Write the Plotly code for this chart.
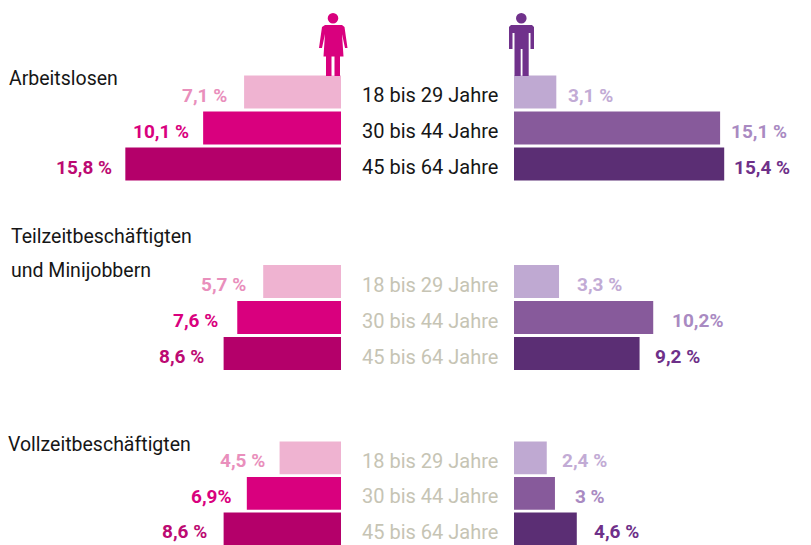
import plotly.graph_objects as go

W, H = 811, 545
ages = ["18 bis 29 Jahre", "30 bis 44 Jahre", "45 bis 64 Jahre"]
title_lines = [["Arbeitslosen"], ["Teilzeitbeschäftigten", "und Minijobbern"], ["Vollzeitbeschäftigten"]]
women = [[7.1, 10.1, 15.8], [5.7, 7.6, 8.6], [4.5, 6.9, 8.6]]
men = [[3.1, 15.1, 15.4], [3.3, 10.2, 9.2], [2.4, 3.0, 4.6]]
women_labels = [["7,1 %", "10,1 %", "15,8 %"], ["5,7 %", "7,6 %", "8,6 %"], ["4,5 %", "6,9%", "8,6 %"]]
men_labels = [["3,1 %", "15,1 %", "15,4 %"], ["3,3 %", "10,2%", "9,2 %"], ["2,4 %", "3 %", "4,6 %"]]
women_gaps = [[15, 12, 11], [15, 17, 18], [13, 13, 15]]
men_gaps = [[10, 9, 8], [16, 17, 13], [13, 18, 15]]

women_colors = ["#EFB3D1", "#D9007E", "#B4006A"]
men_colors = ["#BFA9D2", "#875A9B", "#5B2E74"]
women_text = ["#E98FBC", "#D9007E", "#BC0A72"]
men_text = ["#C2ABD5", "#A98AC2", "#6E3089"]
age_colors = ["#161616", "#C6C4B4"]

PX = 13.65
FONT = "Roboto, sans-serif"
band_px = [(74, 182), (263.5, 371.5), (440, 545)]
y_ranges = [[2.5, -0.5], [2.5, -0.5], [2.45, -0.5]]
title_pos = [[(7, 78)], [(9, 237), (9, 270)], [(6, 444)]]

fig = go.Figure()
layout = {}
ann = []
for g in range(3):
    yid = f"yaxis{'' if g == 0 else g + 1}"
    yname = f"y{'' if g == 0 else g + 1}"
    xl, xr = f"x{2*g+1 if g else ''}", f"x{2*g+2}"
    fig.add_bar(y=ages, x=women[g], orientation="h", xaxis=xl, yaxis=yname,
                marker=dict(color=women_colors, line_width=0), showlegend=False)
    fig.add_bar(y=ages, x=men[g], orientation="h", xaxis=xr, yaxis=yname,
                marker=dict(color=men_colors, line_width=0), showlegend=False)
    a, b = band_px[g]
    layout[yid] = dict(domain=[1 - b / H, 1 - a / H], range=y_ranges[g], type="category",
                       categoryorder="array", categoryarray=ages, visible=False, fixedrange=True)
    lname = f"xaxis{2*g+1 if g else ''}"
    rname = f"xaxis{2*g+2}"
    layout[lname] = dict(domain=[0, 341 / W], range=[341 / PX, 0], visible=False, anchor=yname)
    layout[rname] = dict(domain=[514 / W, 1], range=[0, (W - 514) / PX], visible=False, anchor=yname)
    for i, age in enumerate(ages):
        ann.append(dict(x=362 / W, xref="paper", y=age, yref=yname, text=age, showarrow=False,
                        xanchor="left", font=dict(family=FONT, size=20, color=age_colors[0 if g == 0 else 1]),
                        yshift=-3, xshift=-2))
        ann.append(dict(x=women[g][i], xref=xl, y=age, yref=yname, text=women_labels[g][i], showarrow=False,
                        xanchor="right", xshift=-women_gaps[g][i], yshift=-3,
                        font=dict(family=FONT, size=19, color=women_text[i], weight="bold")))
        ann.append(dict(x=men[g][i], xref=xr, y=age, yref=yname, text=men_labels[g][i], showarrow=False,
                        xanchor="left", xshift=men_gaps[g][i], yshift=-3,
                        font=dict(family=FONT, size=19, color=men_text[i], weight="bold")))
    for line, (tx, ty) in zip(title_lines[g], title_pos[g]):
        ann.append(dict(x=tx / W, xref="paper", y=1 - ty / H, yref="paper", text=line, showarrow=False,
                        xanchor="left", yanchor="middle", align="left",
                        font=dict(family=FONT, size=19.5, color="#161616")))

def path(points):
    return "M " + " L ".join(f"{x/W:.5f},{1-y/H:.5f}" for x, y in points) + " Z"

woman = [(325,25),(342,25),(344.5,27),(347.5,48),(345,48),(342,34),(343.5,56.5),(340,56.5),(340,76),
         (334.5,76),(334.5,56.5),(331.5,56.5),(331.5,76),(326,76),(326,56.5),(323.5,56.5),(325,34),
         (322,48),(319,48),(322,27)]
man = [(511,25),(532,25),(534,27),(534,49),(530.5,49),(530.5,33),(528.7,33),(528.7,76),(522.5,76),(522.5,49),
       (520.7,49),(520.7,76),(514.5,76),(514.5,33),(512.5,33),(512.5,49),(509,49),(509,27)]
shapes = [
    dict(type="path", xref="paper", yref="paper", path=path(woman), fillcolor="#D9007E", line_width=0),
    dict(type="path", xref="paper", yref="paper", path=path(man), fillcolor="#70318B", line_width=0),
    dict(type="circle", xref="paper", yref="paper", x0=327.7/W, x1=338.3/W, y0=1-23.6/H, y1=1-13/H,
         fillcolor="#D9007E", line_width=0),
    dict(type="circle", xref="paper", yref="paper", x0=516/W, x1=526.6/W, y0=1-23.6/H, y1=1-13/H,
         fillcolor="#70318B", line_width=0),
]

fig.update_layout(width=W, height=H, margin=dict(l=0, r=0, t=0, b=0), paper_bgcolor="white",
                  plot_bgcolor="white", bargap=0.08, annotations=ann, shapes=shapes, **layout)
fig.write_html("out.html", config={"displayModeBar": False},
               post_script="document.body.style.margin='0';")
